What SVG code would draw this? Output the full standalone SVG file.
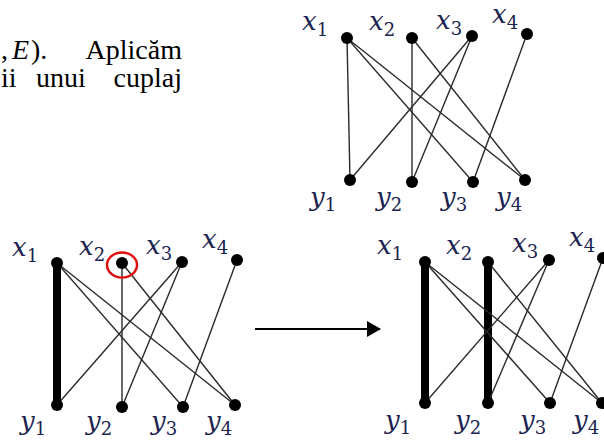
<svg xmlns="http://www.w3.org/2000/svg" width="604" height="442" viewBox="0 0 604 442">
<defs>
<style>
.para{font-family:"Liberation Serif",serif;font-size:28px;fill:#000}
.mi{font-style:italic}
.lbl{font-family:"DejaVu Serif",serif;font-style:italic;font-size:26px;fill:#1b2350}
.sub{font-style:normal;font-size:18px}
.e{stroke:#2a2a2a;stroke-width:1.4;fill:none}
.m{stroke:#000;stroke-width:8;fill:none}
.n{fill:#000}
</style>
<marker id="ah" markerWidth="14" markerHeight="16" refX="13" refY="8" orient="auto" markerUnits="userSpaceOnUse">
<path d="M0,0 L14,8 L0,16 Z" fill="#000"/>
</marker>
</defs>
<rect width="604" height="442" fill="#fff"/>
<g id="text">
<text class="para" x="1" y="59">,</text>
<text class="para mi" x="12" y="59">E</text>
<text class="para" x="31" y="59">).</text>
<text class="para" x="182" y="59" text-anchor="end">Aplicăm</text>
<text class="para" x="1" y="87">ii</text>
<text class="para" x="36" y="87">unui</text>
<text class="para" x="182" y="87" text-anchor="end">cuplaj</text>
</g>
<g id="connectors">
<!-- top graph -->
<line class="e" x1="347" y1="38" x2="350" y2="180"/>
<line class="e" x1="347" y1="38" x2="473" y2="182"/>
<line class="e" x1="347" y1="38" x2="525" y2="180"/>
<line class="e" x1="412" y1="38" x2="412" y2="182"/>
<line class="e" x1="412" y1="38" x2="525" y2="180"/>
<line class="e" x1="472" y1="36" x2="350" y2="180"/>
<line class="e" x1="472" y1="36" x2="412" y2="182"/>
<line class="e" x1="527" y1="34" x2="473" y2="182"/>
<!-- bottom left -->
<line class="m" x1="57" y1="263" x2="57" y2="405"/>
<line class="e" x1="57" y1="263" x2="183" y2="407"/>
<line class="e" x1="57" y1="263" x2="235" y2="405"/>
<line class="e" x1="122" y1="263" x2="122" y2="407"/>
<line class="e" x1="122" y1="263" x2="235" y2="405"/>
<line class="e" x1="182" y1="262" x2="57" y2="405"/>
<line class="e" x1="182" y1="262" x2="122" y2="407"/>
<line class="e" x1="237" y1="260" x2="183" y2="407"/>
<!-- arrow -->
<line x1="255" y1="329" x2="380" y2="329" stroke="#000" stroke-width="2" marker-end="url(#ah)"/>
<!-- bottom right -->
<line class="m" x1="425" y1="262" x2="425" y2="403"/>
<line class="m" x1="488" y1="262" x2="488" y2="403"/>
<line class="e" x1="425" y1="262" x2="550" y2="403"/>
<line class="e" x1="425" y1="262" x2="602" y2="403"/>
<line class="e" x1="488" y1="262" x2="602" y2="403"/>
<line class="e" x1="549" y1="260" x2="425" y2="403"/>
<line class="e" x1="549" y1="260" x2="488" y2="403"/>
<line class="e" x1="603" y1="258" x2="550" y2="403"/>
</g>
<g id="top-graph">
<g id="t-x1"><circle class="n" cx="347" cy="38" r="6"/><text class="lbl" x="302" y="30">x<tspan class="sub" dy="6">1</tspan></text></g>
<g id="t-x2"><circle class="n" cx="412" cy="38" r="6"/><text class="lbl" x="369" y="30">x<tspan class="sub" dy="6">2</tspan></text></g>
<g id="t-x3"><circle class="n" cx="472" cy="36" r="6"/><text class="lbl" x="436" y="29">x<tspan class="sub" dy="6">3</tspan></text></g>
<g id="t-x4"><circle class="n" cx="527" cy="34" r="6"/><text class="lbl" x="492" y="23">x<tspan class="sub" dy="6">4</tspan></text></g>
<g id="t-y1"><circle class="n" cx="350" cy="180" r="6"/><text class="lbl" x="310" y="206">y<tspan class="sub" dy="5">1</tspan></text></g>
<g id="t-y2"><circle class="n" cx="412" cy="182" r="6"/><text class="lbl" x="376" y="206">y<tspan class="sub" dy="5">2</tspan></text></g>
<g id="t-y3"><circle class="n" cx="473" cy="182" r="6"/><text class="lbl" x="441" y="206">y<tspan class="sub" dy="5">3</tspan></text></g>
<g id="t-y4"><circle class="n" cx="525" cy="180" r="6"/><text class="lbl" x="496" y="206">y<tspan class="sub" dy="5">4</tspan></text></g>
</g>
<g id="left-graph">
<g id="l-x1"><circle class="n" cx="57" cy="263" r="6"/><text class="lbl" x="12" y="256">x<tspan class="sub" dy="6">1</tspan></text></g>
<g id="l-x2"><circle class="n" cx="122" cy="263" r="6"/><text class="lbl" x="79" y="255">x<tspan class="sub" dy="6">2</tspan></text><ellipse cx="122" cy="265" rx="15" ry="12.5" fill="none" stroke="#e01010" stroke-width="2.5"/></g>
<g id="l-x3"><circle class="n" cx="182" cy="262" r="6"/><text class="lbl" x="146" y="254">x<tspan class="sub" dy="6">3</tspan></text></g>
<g id="l-x4"><circle class="n" cx="237" cy="260" r="6"/><text class="lbl" x="202" y="248">x<tspan class="sub" dy="6">4</tspan></text></g>
<g id="l-y1"><circle class="n" cx="57" cy="405" r="6"/><text class="lbl" x="20" y="430">y<tspan class="sub" dy="5">1</tspan></text></g>
<g id="l-y2"><circle class="n" cx="122" cy="407" r="6"/><text class="lbl" x="86" y="430">y<tspan class="sub" dy="5">2</tspan></text></g>
<g id="l-y3"><circle class="n" cx="183" cy="407" r="6"/><text class="lbl" x="151" y="430">y<tspan class="sub" dy="5">3</tspan></text></g>
<g id="l-y4"><circle class="n" cx="235" cy="405" r="6"/><text class="lbl" x="206" y="430">y<tspan class="sub" dy="5">4</tspan></text></g>
</g>
<g id="right-graph">
<g id="r-x1"><circle class="n" cx="425" cy="262" r="6"/><text class="lbl" x="377" y="254">x<tspan class="sub" dy="6">1</tspan></text></g>
<g id="r-x2"><circle class="n" cx="488" cy="262" r="6"/><text class="lbl" x="446" y="254">x<tspan class="sub" dy="6">2</tspan></text></g>
<g id="r-x3"><circle class="n" cx="549" cy="260" r="6"/><text class="lbl" x="512" y="252">x<tspan class="sub" dy="6">3</tspan></text></g>
<g id="r-x4"><circle class="n" cx="603" cy="258" r="6"/><text class="lbl" x="569" y="246">x<tspan class="sub" dy="6">4</tspan></text></g>
<g id="r-y1"><circle class="n" cx="425" cy="403" r="6"/><text class="lbl" x="385" y="429">y<tspan class="sub" dy="5">1</tspan></text></g>
<g id="r-y2"><circle class="n" cx="488" cy="403" r="6"/><text class="lbl" x="455" y="429">y<tspan class="sub" dy="5">2</tspan></text></g>
<g id="r-y3"><circle class="n" cx="550" cy="403" r="6"/><text class="lbl" x="520" y="429">y<tspan class="sub" dy="5">3</tspan></text></g>
<g id="r-y4"><circle class="n" cx="602" cy="403" r="6"/><text class="lbl" x="573" y="429">y<tspan class="sub" dy="5">4</tspan></text></g>
</g>
</svg>
